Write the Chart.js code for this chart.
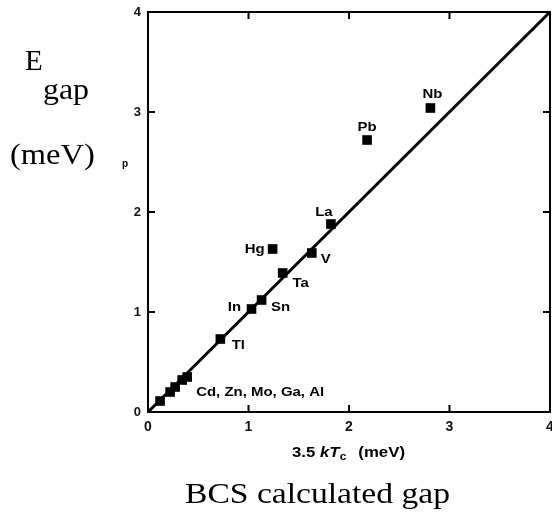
<!DOCTYPE html>
<html lang="en">
<head>
  <meta charset="UTF-8">
  <title>Energy gap vs BCS calculated gap</title>
  <script src="https://cdn.jsdelivr.net/npm/chart.js"></script>
  <style>
    html, body { margin: 0; padding: 0; background: #fff; }
    #wrap { position: relative; width: 552px; height: 519px; }
  </style>
</head>
<body>
  <div id="wrap"><canvas id="chart"></canvas></div>

  <script>
    // Data (meV)
    const elements    = ['Cd', 'Zn', 'Mo', 'Ga', 'Al', 'Tl', 'In', 'Sn', 'Ta', 'Hg', 'V', 'La', 'Pb', 'Nb'];
    const bcsGap      = [0.12, 0.22, 0.27, 0.34, 0.39, 0.72, 1.03, 1.13, 1.34, 1.24, 1.63, 1.82, 2.18, 2.81];
    const measuredGap = [0.11, 0.20, 0.25, 0.32, 0.35, 0.73, 1.03, 1.12, 1.39, 1.63, 1.59, 1.88, 2.72, 3.04];
    const pointLabels = ['', '', '', '', 'Cd, Zn, Mo, Ga, Al', 'Tl', 'In', 'Sn', 'Ta', 'Hg', 'V', 'La', 'Pb', 'Nb'];

    // The line E_gap = 3.5 kTc
    const lineX = [0, 4];
    const lineY = [0, 4];

    const axisMin = 0, axisMax = 4;
    const innerTicks = [1, 2, 3];

    // label placement relative to its point (pixels), and alignment
    const labelOffsets = {
      Al: [9, 14, 'left'],
      Tl: [18, 5], In: [-17, -3], Sn: [19, 6], Ta: [18, 9],
      Hg: [-18, -1], V: [14, 5], La: [-7, -13], Pb: [0, -14], Nb: [2, -15]
    };

    const sansBold = 'bold 13px "Liberation Sans", Arial, sans-serif';
    const serif = '"Liberation Serif", "Times New Roman", serif';

    // draw text squeezed/stretched horizontally like the scanned figure
    function stretchText(ctx, text, x, y, font, align, sx) {
      ctx.save();
      ctx.font = font;
      ctx.textAlign = align || 'left';
      ctx.textBaseline = 'alphabetic';
      ctx.translate(x, y);
      ctx.scale(sx || 1, 1);
      ctx.fillText(text, 0, 0);
      ctx.restore();
    }

    const decorations = {
      id: 'decorations',
      afterDraw(chart) {
        const ctx = chart.ctx;
        const area = chart.chartArea;
        const xs = chart.scales.x, ys = chart.scales.y;
        ctx.save();
        ctx.strokeStyle = '#000';
        ctx.fillStyle = '#000';
        ctx.lineWidth = 2;

        // top and right frame
        ctx.beginPath();
        ctx.moveTo(area.left, area.top);
        ctx.lineTo(area.right, area.top);
        ctx.lineTo(area.right, area.bottom);
        ctx.stroke();

        // inward tick marks on all four sides
        const tl = 7;
        ctx.beginPath();
        innerTicks.forEach(v => {
          const px = xs.getPixelForValue(v);
          ctx.moveTo(px, area.bottom); ctx.lineTo(px, area.bottom - tl);
          ctx.moveTo(px, area.top);    ctx.lineTo(px, area.top + tl);
          const py = ys.getPixelForValue(v);
          ctx.moveTo(area.left, py);   ctx.lineTo(area.left + tl, py);
          ctx.moveTo(area.right, py);  ctx.lineTo(area.right - tl, py);
        });
        ctx.stroke();

        // element labels
        elements.forEach((el, i) => {
          const text = pointLabels[i];
          if (!text) return;
          const off = labelOffsets[el] || [0, -12];
          const px = xs.getPixelForValue(bcsGap[i]) + off[0];
          const py = ys.getPixelForValue(measuredGap[i]) + off[1];
          stretchText(ctx, text, px, py + 5, sansBold, off[2] || 'center', 1.15);
        });

        // x axis title: 3.5 kTc (meV)
        const cx = (area.left + area.right) / 2;
        let tx = cx - 57, ty = 457;
        const s = 1.2;
        const part = (str, font, dy) => {
          ctx.font = font;
          const w = ctx.measureText(str).width * s;
          stretchText(ctx, str, tx, ty + (dy || 0), font, 'left', s);
          tx += w;
        };
        part('3.5 ', 'bold 14px "Liberation Sans", Arial, sans-serif');
        part('kT', 'italic bold 14px "Liberation Sans", Arial, sans-serif');
        part('c', 'bold 10px "Liberation Sans", Arial, sans-serif', 3);
        tx += 12;
        part('(meV)', 'bold 14px "Liberation Sans", Arial, sans-serif');

        // large serif captions
        stretchText(ctx, 'BCS calculated gap', 185, 503, '30px ' + serif, 'left', 1.12);
        stretchText(ctx, 'E', 25, 70, '29px ' + serif, 'left', 1);
        stretchText(ctx, 'gap', 43, 99, '29px ' + serif, 'left', 1.1);
        stretchText(ctx, '(meV)', 10, 164, '29px ' + serif, 'left', 1.12);
        stretchText(ctx, 'p', 125, 167, 'bold 10px "Liberation Sans", Arial, sans-serif', 'center', 1);

        ctx.restore();
      }
    };

    new Chart(document.getElementById('chart').getContext('2d'), {
      type: 'scatter',
      data: {
        datasets: [
          {
            label: 'BCS',
            data: lineX.map((x, i) => ({ x: x, y: lineY[i] })),
            showLine: true,
            borderColor: '#000',
            borderWidth: 3,
            pointRadius: 0,
            fill: false
          },
          {
            label: 'measured',
            data: bcsGap.map((x, i) => ({ x: x, y: measuredGap[i] })),
            pointStyle: 'rect',
            pointRadius: 6.8,
            backgroundColor: '#000',
            borderColor: '#000',
            borderWidth: 0
          }
        ]
      },
      options: {
        responsive: true,
        maintainAspectRatio: false,
        animation: false,
        layout: { autoPadding: false, padding: { top: 12, right: 2, left: 0, bottom: 0 } },
        plugins: {
          legend: { display: false },
          tooltip: { enabled: false }
        },
        scales: {
          x: {
            type: 'linear',
            min: axisMin,
            max: axisMax,
            grid: { display: false, drawTicks: false },
            border: { display: true, color: '#000', width: 2 },
            ticks: {
              stepSize: 1,
              padding: 7,
              color: '#111',
              font: { family: '"Liberation Sans", Arial, sans-serif', size: 14, weight: 'bold' }
            },
            // keep the plot box right up to the edge like the original
            afterFit: s => { s.height = 107; s.paddingLeft = 0; s.paddingRight = 0; }
          },
          y: {
            type: 'linear',
            min: axisMin,
            max: axisMax,
            grid: { display: false, drawTicks: false },
            border: { display: true, color: '#000', width: 2 },
            ticks: {
              stepSize: 1,
              padding: 7,
              color: '#111',
              font: { family: '"Liberation Sans", Arial, sans-serif', size: 13, weight: 'bold' }
            },
            afterFit: s => { s.width = 148; s.paddingTop = 0; s.paddingBottom = 0; }
          }
        }
      },
      plugins: [decorations]
    });
  </script>
</body>
</html>
